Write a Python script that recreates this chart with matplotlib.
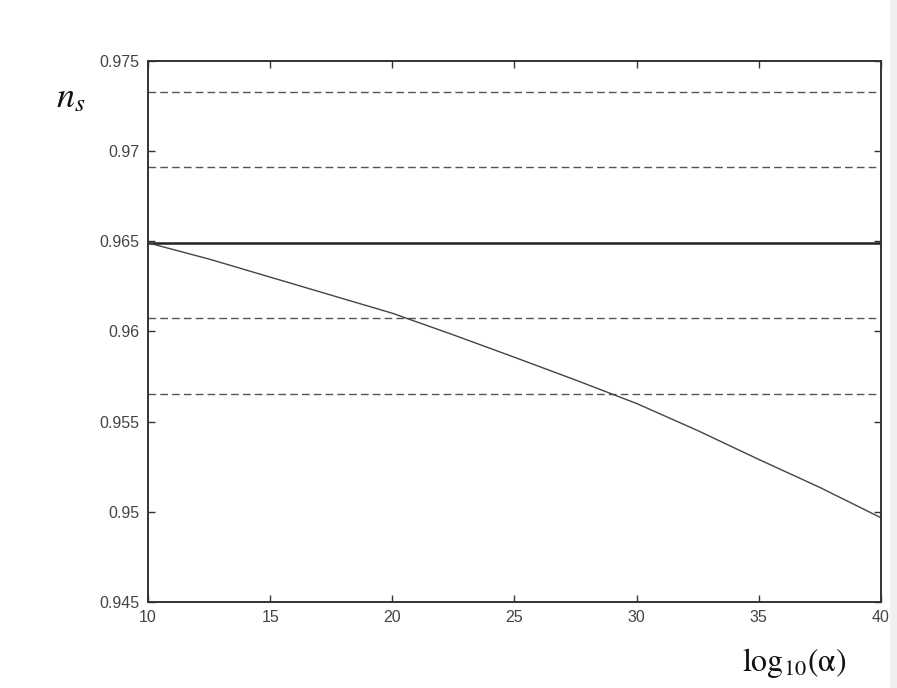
"""Spectral index n_s versus log10(alpha) with reference bands."""

import matplotlib
matplotlib.use("Agg")
import matplotlib.pyplot as plt
from matplotlib.patches import Rectangle

plt.rcParams.update({
    'font.family': 'Liberation Sans',
    'mathtext.fontset': 'stix',
    'font.size': 11.5,
})

# curve
log_alpha = [10, 12.5, 15, 17.5, 20, 22.5, 25, 27.5, 30, 32.5, 35, 37.5, 40]
ns_curve = [0.9649, 0.9640, 0.9630, 0.9620, 0.9610, 0.9598, 0.95856,
            0.9573, 0.9560, 0.9545, 0.9529, 0.95135, 0.94967]

ns_central = 0.9649
ns_bounds = [0.97325, 0.96908, 0.96072, 0.95652]

x_ticks = [10, 15, 20, 25, 30, 35, 40]
y_ticks = [0.945, 0.95, 0.955, 0.96, 0.965, 0.97, 0.975]
y_tick_labels = ['0.945', '0.95', '0.955', '0.96', '0.965', '0.97', '0.975']

fig = plt.figure(figsize=(8.97, 6.88), dpi=100)
ax = fig.add_axes([0.165, 0.125, 0.817, 0.787])

for b in ns_bounds:
    ax.axhline(b, color='#555555', linestyle=(0, (5.5, 3.0)), linewidth=1.0)
ax.axhline(ns_central, color='#222222', linewidth=1.8)
ax.plot(log_alpha, ns_curve, color='#444444', linewidth=1.0)

ax.set_xlim(10, 40)
ax.set_ylim(0.945, 0.975)
ax.set_xticks(x_ticks)
ax.set_yticks(y_ticks)
ax.set_yticklabels(y_tick_labels)
ax.tick_params(direction='in', length=5, width=1.0, top=True, right=True,
               colors='#333333', labelcolor='#444444', pad=6)
for s in ax.spines.values():
    s.set_color('#333333')
    s.set_linewidth(1.4)

fig.text(71 / 897, 1 - 98 / 688, r'$n_s$', fontsize=26, ha='center', va='center',
         color='#111111')
fig.text(794 / 897, 1 - 663 / 688, r'$\mathrm{log}_{10}(\mathrm{\alpha})$',
         fontsize=23, ha='center', va='center', color='#111111')

fig.patches.append(Rectangle((890 / 897, 0), 7 / 897, 1, transform=fig.transFigure,
                             facecolor='#f0f0f0', edgecolor='none', zorder=-1))

plt.savefig('out.png', dpi=100)
plt.close()
